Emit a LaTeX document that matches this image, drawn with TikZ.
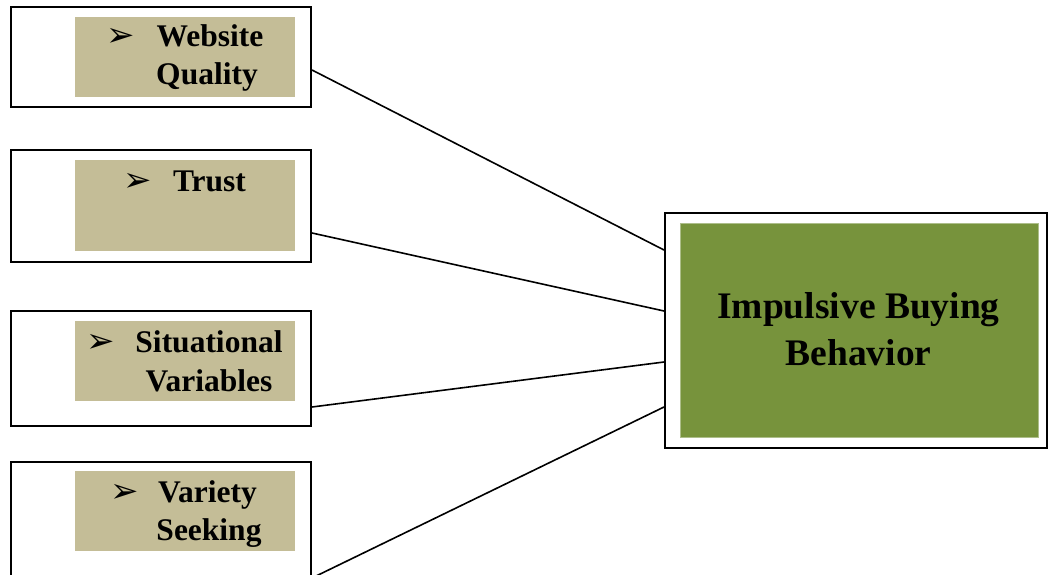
\documentclass[tikz,border=0pt]{standalone}
\usepackage{fontspec}
\setmainfont{Liberation Serif}
\newfontfamily\dingfont{DejaVu Sans}
\definecolor{tanc}{HTML}{C4BD97}
\definecolor{olivec}{HTML}{77933C}
\tikzset{
  outerbox/.style={draw=black, line width=2pt, fill=white, rectangle, inner sep=0pt},
  tanbox/.style={fill=tanc, rectangle, inner sep=0pt},
  greenbox/.style={fill=olivec, draw=olivec!60!white, line width=0.6pt, rectangle, inner sep=0pt},
  lbl/.style={anchor=base, inner sep=0pt, font=\fontsize{31.5}{36}\selectfont\bfseries},
  biglbl/.style={anchor=base, inner sep=0pt, font=\fontsize{37.5}{44}\selectfont\bfseries},
  bul/.style={anchor=base west, inner sep=0pt, font=\fontsize{34}{40}\selectfont\dingfont},
  conn/.style={draw=black, line width=1.6pt}
}
\begin{document}
\begin{tikzpicture}[x=1pt,y=-1pt]
\useasboundingbox (0,0) rectangle (1049,575);
% left boxes
\node[outerbox, minimum width=300pt, minimum height=100pt] (b1) at (161,57) {};
\node[tanbox, minimum width=220pt, minimum height=80pt] (t1) at (185,57) {};
\node[outerbox, minimum width=300pt, minimum height=112pt] (b2) at (161,206) {};
\node[tanbox, minimum width=220pt, minimum height=91pt] (t2) at (185,205.5) {};
\node[outerbox, minimum width=300pt, minimum height=115pt] (b3) at (161,368.5) {};
\node[tanbox, minimum width=220pt, minimum height=80pt] (t3) at (185,361) {};
\node[outerbox, minimum width=300pt, minimum height=138pt] (b4) at (161,531) {};
\node[tanbox, minimum width=220pt, minimum height=80pt] (t4) at (185,511) {};
% right box
\node[outerbox, minimum width=382pt, minimum height=235pt] (r) at (856,330.5) {};
\node[greenbox, minimum width=358pt, minimum height=214pt] (g) at (859,330) {};
% texts
\node[bul] (u1) at (106,47) {➢};
\node[lbl] (w1) at (210,47) {Website};
\node[lbl] (w2) at (207,85) {Quality};
\node[bul] (u2) at (123,191) {➢};
\node[lbl] (tr) at (209.5,191) {Trust};
\node[bul] (u3) at (86,352) {➢};
\node[lbl] (s1) at (209,352) {Situational};
\node[lbl] (s2) at (209,391) {Variables};
\node[bul] (u4) at (110,502) {➢};
\node[lbl] (v1) at (207.5,502) {Variety};
\node[lbl] (v2) at (209,540) {Seeking};
\node[biglbl] (i1) at (858.5,318) {Impulsive Buying};
\node[biglbl] (i2) at (858.5,365) {Behavior};
% connectors
\draw[conn] ([yshift=-13pt]b1.east) -- ([yshift=80.5pt]r.west);
\draw[conn] ([yshift=-27pt]b2.east) -- ([yshift=19.5pt]r.west);
\draw[conn] ([yshift=-38.5pt]b3.east) -- ([yshift=-31.5pt]r.west);
\draw[conn] ([yshift=-47pt]b4.east) -- ([yshift=-76.5pt]r.west);
\end{tikzpicture}
\end{document}
